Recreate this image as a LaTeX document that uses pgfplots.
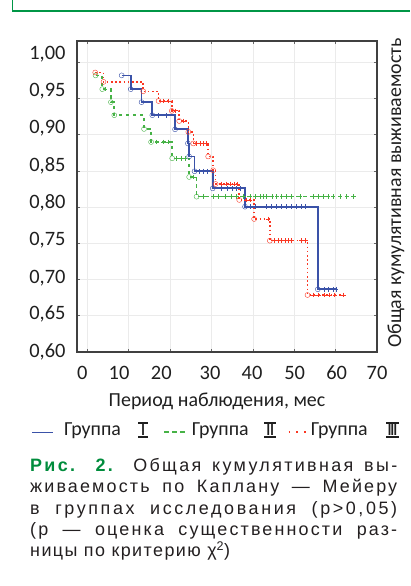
\documentclass[border=0pt]{standalone}
\usepackage{fontspec}
\setmainfont{Carlito}
\newfontfamily\capfonta[LetterSpace=13]{Liberation Sans}
\newfontfamily\capfontb[LetterSpace=12]{Liberation Sans}
\newfontfamily\capfontc[LetterSpace=14.5]{Liberation Sans}
\newfontfamily\capfontw[LetterSpace=8]{Liberation Sans}
\usepackage{pgfplots}
\pgfplotsset{compat=1.18}
\definecolor{kmblue}{RGB}{58,82,168}
\definecolor{kmgreen}{RGB}{70,178,70}
\definecolor{kmred}{RGB}{250,55,35}
\definecolor{framegreen}{RGB}{0,150,70}
\definecolor{capgreen}{RGB}{0,140,60}
\definecolor{captext}{RGB}{35,31,32}
\newcommand{\rom}[2]{\setbox0\hbox{\makebox[#1]{#2}}\rlap{\rule[\dimexpr\ht0-1.6bp]{\wd0}{1.6bp}}\rlap{\rule[-3bp]{\wd0}{1.8bp}}\box0}
\begin{document}
\begin{tikzpicture}[x=1bp,y=1bp]
\path[use as bounding box] (0,0) rectangle (410,586);
\draw[framegreen, line width=1.3bp] (12.5,586) -- (12.5,575) -- (410,575);

\begin{axis}[at={(77bp,234bp)}, anchor=south west, width=300bp, height=311bp, scale only axis,
  xmin=-2.5, xmax=70, ymin=0.6, ymax=1.0295,
  xtick={0,10,20,30,40,50,60,70}, ytick={0.6,0.65,0.7,0.75,0.8,0.85,0.9,0.95,1.0},
  xticklabels={,,,,,,,}, yticklabels={,,,,,,,,},
  grid=major, grid style={black!8, line width=0.6bp},
  tick align=inside, major tick length=3.3bp, tick style={black!60, line width=0.6bp},
  axis line style={black!75, line width=1.1bp},
  mark options={solid, line width=0.8bp},
]
% Group II (green, dashed)
\addplot[const plot, kmgreen, line width=1.5bp, dash pattern=on 3.5bp off 3.5bp] coordinates {
(2.0,0.982)(3.6,0.963)(5.7,0.945)(6.5,0.927)(13.7,0.908)(15.4,0.890)(20.5,0.8675)(24.6,0.8417)(26.4,0.8145)(64.4,0.8145)};
\addplot[only marks, kmgreen, mark=o, mark size=2.5bp, mark options={fill=white}] coordinates {
(2.0,0.982)(3.6,0.963)(5.7,0.945)(6.5,0.927)(13.7,0.908)(15.4,0.890)(20.5,0.8675)(24.6,0.8417)(26.4,0.8145)};
\addplot[only marks, kmgreen, mark=+, mark size=2.3bp] coordinates {
(4.3,0.963)(16.8,0.890)(18.4,0.890)(19.6,0.890)(21.6,0.8675)(22.8,0.8675)(23.6,0.8675)(25.6,0.8417)(28.0,0.8145)(30.4,0.8145)(31.7,0.8145)(33.3,0.8145)(34.9,0.8145)(36.1,0.8145)(37.7,0.8145)(39.3,0.8145)(40.5,0.8145)(41.7,0.8145)(42.5,0.8145)(43.3,0.8145)(44.6,0.8145)(45.8,0.8145)(47.0,0.8145)(48.2,0.8145)(49.4,0.8145)(51.4,0.8145)(54.6,0.8145)(55.8,0.8145)(57.0,0.8145)(58.2,0.8145)(59.4,0.8145)(61.1,0.8145)(62.7,0.8145)(64.3,0.8145)};
% Group I (blue, solid)
\addplot[const plot, kmblue, line width=1.7bp] coordinates {
(8.3,0.982)(10.5,0.963)(13.1,0.945)(15.7,0.927)(21.2,0.9075)(24.3,0.888)(24.6,0.870)(25.9,0.8496)(30.3,0.826)(38.1,0.8007)(55.7,0.6866)(60.1,0.6866)};
\addplot[only marks, kmblue, mark=o, mark size=2.5bp, mark options={fill=white}] coordinates {
(8.3,0.982)(10.5,0.963)(13.1,0.945)(15.7,0.927)(21.2,0.9075)(24.3,0.888)(24.6,0.870)(25.9,0.8496)(30.3,0.826)(38.1,0.8007)(55.7,0.6866)};
\addplot[only marks, kmblue, mark=+, mark size=2.3bp] coordinates {
(17.2,0.927)(19.2,0.927)(27.0,0.8496)(28.0,0.8496)(29.0,0.8496)(32.3,0.826)(33.8,0.826)(35.0,0.826)(36.0,0.826)(36.9,0.826)(39.3,0.8007)(40.5,0.8007)(43.3,0.8007)(44.5,0.8007)(45.7,0.8007)(46.9,0.8007)(48.1,0.8007)(49.3,0.8007)(50.6,0.8007)(51.8,0.8007)(52.8,0.8007)(57.2,0.6866)(58.2,0.6866)(59.4,0.6866)(60.1,0.6866)};
% Group III (red, dotted)
\addplot[const plot, kmred, line width=1.5bp, dash pattern=on 1.6bp off 2.6bp] coordinates {
(1.9,0.986)(3.9,0.973)(13.5,0.960)(17.2,0.9466)(20.4,0.933)(22.2,0.919)(24.4,0.904)(25.6,0.888)(29.2,0.870)(30.4,0.851)(31.0,0.832)(36.7,0.810)(40.3,0.7837)(44.1,0.7537)(53.2,0.6787)(61.9,0.6787)};
\addplot[only marks, kmred, mark=o, mark size=2.5bp, mark options={fill=white}] coordinates {
(1.9,0.986)(3.9,0.973)(13.5,0.960)(17.2,0.9466)(20.4,0.933)(22.2,0.919)(24.4,0.904)(25.6,0.888)(29.2,0.870)(30.4,0.851)(31.0,0.832)(36.7,0.810)(40.3,0.7837)(44.1,0.7537)(53.2,0.6787)};
\addplot[only marks, kmred, mark=+, mark size=2.3bp] coordinates {
(18.4,0.9466)(19.6,0.9466)(21.3,0.933)(23.2,0.919)(26.4,0.888)(27.2,0.888)(28.0,0.888)(28.8,0.888)(32.5,0.832)(33.5,0.832)(34.5,0.832)(35.5,0.832)(36.3,0.832)(38.5,0.810)(39.3,0.810)(43.7,0.7837)(45.3,0.7537)(46.1,0.7537)(47.0,0.7537)(47.8,0.7537)(48.6,0.7537)(49.4,0.7537)(51.8,0.7537)(52.8,0.7537)(54.6,0.6787)(55.8,0.6787)(57.4,0.6787)(58.6,0.6787)(59.8,0.6787)(61.9,0.6787)};
\end{axis}

% tick labels, placed where the reference prints them
\begin{axis}[at={(77bp,234bp)}, anchor=south west, width=300bp, height=311bp, scale only axis,
  xmin=77, xmax=377, ymin=234, ymax=545,
  axis line style={draw=none}, tick style={draw=none}, major tick length=0pt,
  xtick={82.3,119,161.3,210,252,294.7,336.7,377}, xticklabels={0,10,20,30,40,50,60,70},
  ytick={234.5,273,309.3,347,384.3,421,459.3,496,533.3},
  yticklabels={{0,60},{0,65},{0,70},{0,75},{0,80},{0,85},{0,90},{0,95},{1,00}},
  ticklabel style={font=\fontsize{20.5}{24}\selectfont, inner sep=0pt, text=black!88},
  xticklabel style={anchor=north, yshift=-14bp},
  yticklabel style={anchor=base east, xshift=-11.3bp, yshift=-6.5bp},
]
\addplot[draw=none] coordinates {(100,300)};
\end{axis}

\node[anchor=base, inner sep=0, font=\fontsize{20}{24}\selectfont, text=black!88] at (217,179.3) {Период наблюдения, мес};
\node[rotate=90, anchor=center, inner sep=0, font=\fontsize{20}{24}\selectfont, text=black!88] at (396,393) {Общая кумулятивная выживаемость};

% legend
\draw[kmblue, line width=1.5bp] (32,153.7) -- (53,153.7);
\node[anchor=base west, inner sep=0, font=\fontsize{20}{24}\selectfont, text=black!88] at (64,150.8) {Группа};
\node[anchor=base west, inner sep=0, font=\fontsize{20}{24}\selectfont, text=black!88] at (138,150.8) {\rom{10bp}{I}};
\draw[kmgreen, line width=1.5bp, dash pattern=on 5bp off 2.8bp] (164.3,154) -- (185,154);
\node[anchor=base west, inner sep=0, font=\fontsize{20}{24}\selectfont, text=black!88] at (191.7,150.8) {Группа};
\node[anchor=base west, inner sep=0, font=\fontsize{20}{24}\selectfont, text=black!88] at (264,150.8) {\rom{12bp}{I\kern-1.2bp I}};
\draw[kmred, line width=1.6bp, dash pattern=on 1.8bp off 6bp] (288.5,154) -- (307,154);
\node[anchor=base west, inner sep=0, font=\fontsize{20}{24}\selectfont, text=black!88] at (310.7,150.8) {Группа};
\node[anchor=base west, inner sep=0, font=\fontsize{20}{24}\selectfont, text=black!88] at (386,150.8) {\rom{12.5bp}{I\kern-2.2bp I\kern-2.2bp I}};

% caption
\begin{scope}[every node/.style={anchor=base west, inner sep=0, text=captext}]
\node[font=\capfonta\fontsize{18}{21}\selectfont] at (30,114.3) {\makebox[367bp][s]{\textcolor{capgreen}{\bfseries Рис. 2.} Общая кумулятивная вы-}};
\node[font=\capfontb\fontsize{18}{21}\selectfont] at (30,93.1) {\makebox[367bp][s]{живаемость по Каплану — Мейеру}};
\node[font=\capfontc\fontsize{18}{21}\selectfont] at (30,71.8) {\makebox[367bp][s]{в группах исследования (p>0,05)}};
\node[font=\capfontb\fontsize{18}{21}\selectfont] at (30,50.6) {\makebox[367bp][s]{(p — оценка существенности раз-}};
\node[font=\capfontw\fontsize{18}{21}\selectfont] at (30,29.3) {ницы по критерию χ\textsuperscript{2})};
\end{scope}
\end{tikzpicture}
\end{document}
